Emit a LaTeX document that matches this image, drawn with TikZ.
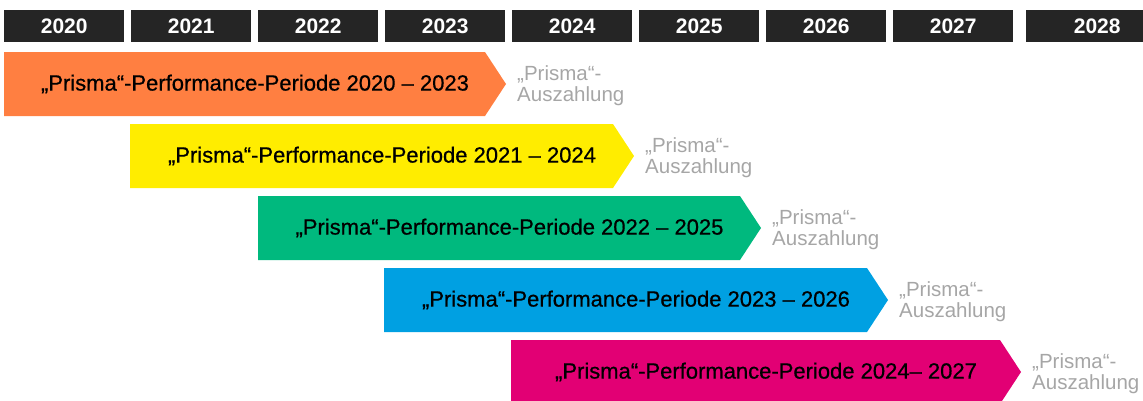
\documentclass[tikz,border=0pt]{standalone}
\usepackage{fontspec}
\setmainfont{Liberation Sans}
\newfontfamily\medfont{Liberation Sans}[FakeBold=0.6]
\definecolor{hdr}{HTML}{252525}
\definecolor{cOrange}{HTML}{FF7F41}
\definecolor{cYellow}{HTML}{FFED00}
\definecolor{cGreen}{HTML}{00B97E}
\definecolor{cBlue}{HTML}{00A0E2}
\definecolor{cPink}{HTML}{E20074}
\definecolor{payGray}{HTML}{A6A6A6}
\begin{document}
\begin{tikzpicture}[x=1pt,y=-1pt,
  yearbox/.style={fill=hdr, inner sep=0pt, minimum height=32pt, anchor=north west,
    text=white, font=\fontsize{21}{21}\selectfont\bfseries},
  barlabel/.style={inner sep=0pt, text=black, font=\medfont\fontsize{22}{22}\selectfont},
  paylabel/.style={inner sep=0pt, anchor=west, align=left, text=payGray,
    font=\fontsize{20.5}{21}\selectfont}]
\useasboundingbox (0,0) rectangle (1143,400);

% year header
\foreach \x/\w/\yr in {4/120/2020,131/120/2021,258/120/2022,385/120/2023,512/120/2024,639/120/2025,766/120/2026,893/120/2027,1026/142/2028}
  \node[yearbox, minimum width=\w pt] (y\yr) at (\x,10) {\yr};

% performance periods
\foreach \s/\e/\t/\c/\lab/\n in {
  4/485/52/cOrange/{2020 – 2023}/1,
  130/613/124/cYellow/{2021 – 2024}/2,
  258/740/196/cGreen/{2022 – 2025}/3,
  384/867/268/cBlue/{2023 – 2026}/4,
  511/1000/340/cPink/{2024– 2027}/5}{
  \fill[\c] (\s,\t) -- (\e,\t) -- (\e+21,\t+32) -- (\e,\t+64) -- (\s,\t+64) -- cycle;
  \node[barlabel] (bar\n) at ({(\s+\e+21)/2},\t+32) {„Prisma“-Performance-Periode \lab};
  \node[paylabel] (pay\n) at (\e+32,\t+34) {„Prisma“-\\Auszahlung};
}
\end{tikzpicture}
\end{document}
